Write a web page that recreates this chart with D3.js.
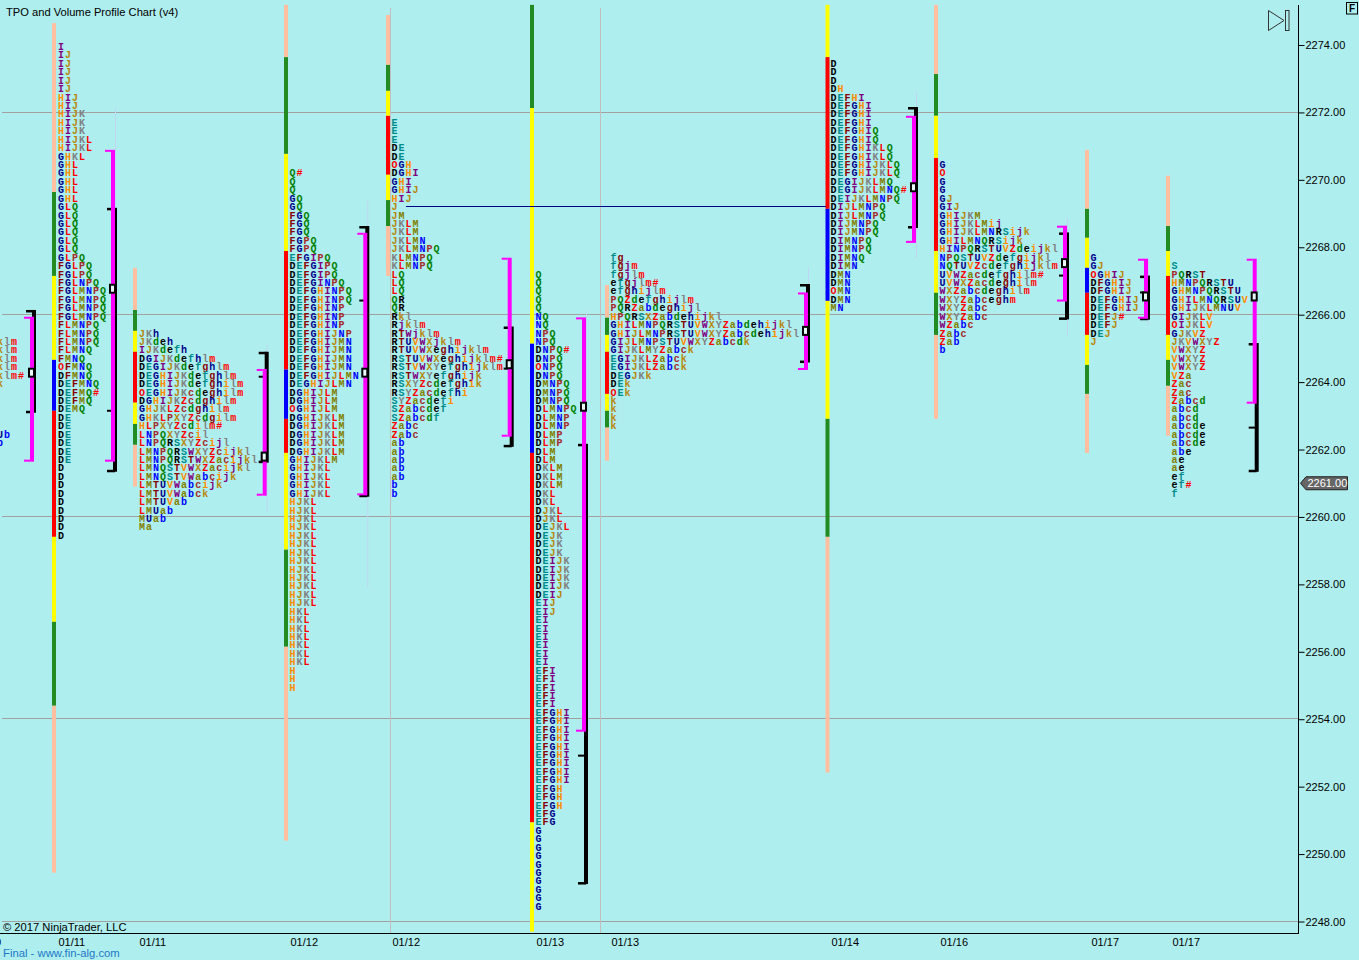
<!DOCTYPE html>
<html><head><meta charset="utf-8">
<script src="https://d3js.org/d3.v7.min.js"></script>
<style>
html,body{margin:0;padding:0;background:#AFEEEE;overflow:hidden}
svg{display:block}
text{font-family:"Liberation Sans",Arial,sans-serif}
.tpo{font-family:"Liberation Mono",monospace;font-size:10px;font-weight:bold;letter-spacing:1px}
</style></head><body>
<script>
// ---------- axis data ----------
const tickPrices=[2274,2272,2270,2268,2266,2264,2262,2260,2258,2256,2254,2252,2250,2248];
const gridPrices=[2272,2266,2260,2254,2248];
const lastPrice=2261;
const dateLabels=["01/10","01/11","01/11","01/12","01/12","01/13","01/13","01/14","01/16","01/17","01/17"];
const dateBars=[-27,58,139,290,392,536,611,831,940,1091,1172];
const sessionBreakBars=[390.5,600.5];
const pocLine=[406,826,2269.2];

// ---------- TPO letter rows per profile (top row first, one row per 0.25 points) ----------
const tpo0=["klm","klm","klm","klm","klm#","k","","","","","","Ub","b"];
const tpo1="I IJ IJ IJ IJ IJ HIJ HIJ HIJK HIJK HIJK HIJKL HIJKL GHKL GHL GHL GHL GHL GHL GLQ GLQ GLQ GLQ GLQ GLQ GLPQ FGLPQ FGLPQ FGLNPQ FGLMNPQ FGLMNPQ FGLMNPQ FGLMNPQ FLMNPQ FLMNPQ FLMNPQ FLMNQ FMNQ OFMNQ DFMNQ DEFMNQ DEFMQ# DEFMQ DEMQ DE DE DE DE DE DE D D D D D D D D D".split(" ");
const tpo2="JKh JKdeh IJKdefh DGIJKdefhlm DEGIJKdefghlm DEGHIJKdefghlm DEGHIJKdefghilm OEGHIJKcdeghilm DGHIJKZcdghilm GHJKLZcdghilm GHKLPXYZcdgilm HLPXYZcdilm# LNPQXYZcil LNPQRSXYZcijl LMNPQRSWXYZcijkl LMNPQRSTWXZacijkl LMNQSTVWXZacijkl LMNQSTVWabcijk LMTUVWabcijk LMTUVWabck LMTUVab LMUab MUab Ma".split(" ");
const tpo3="Q# Q Q GQ GQ FGQ FGQ FGQ FGPQ FGPQ EFGIPQ DEFGIPQ DEFGIPQ DEFGINPQ DEFGHINPQ DEFGHINPQ DEFGHINP DEFGHINP DEFGHINP DEFGHIJNP DEFGHIJMN DEFGHIJMN DEFGHIJMN DEFGHIJMN DEFGHIJLMN DEGHIJLMN DGHIJLM DGHIJLM OGHIJLM DGHIJKLM DGHIJKLM DGHIJKLM DGHIJKLM DGHIJKLM GHIJKLM GHIJKL GHIJKL GHIJKL GHIJKL HJKL HJKL HJKL HJKL HJKL HJKL HJKL HJKL HJKL HJKL HJKL HJKL HJKL HKL HKL HKL HKL HKL HKL HKL H H H".split(" ");
const tpo4="E E E DE DE OGH DGHI GHI GHIJ HIJ J JM JKLM JKLM JKLMN JKLMNPQ KLMNPQ KLMNPQ LQ LQ LQ QR QR Rkl Rjklm RTWjklm RTUVWXjklm RTUVWXeghijklm RSTUVWXeghijklm# RSTVWXYefghijklm RSTWXYefghijk RSXYZcdefghik RSYZacdefhi SYZacdefi SZabcdef SZabcdf Zabc Zabc ab ab ab ab ab b b".split(" ");
const tpo5="Q Q Q Q Q NQ NQ NPQ NPQ DNPQ# DNPQ ONPQ DNPQ DMNPQ DMNPQ DMNPQ DLMNPQ DLMNP DLMNP DLMP DLMP DLM DLM DKLM DKLM DKLM DKL DKL DJKL DJKL DEJKL DEJK DEJK DEJK DEIJK DEIJK DEIJK DEIJK DEIJ EIJ EIJ EI EI EI EI EI EI EFI EFI EFI EFI EFI EFGHI EFGHI EFGHI EFGHI EFGHI EFGHI EFGHI EFGHI EFGHI EFGH EFGH EFGH EFG EFG G G G G G G G G G G".split(" ");
const tpo6="fg fgjm fgjlm efgjlm# efghijlm PQZdefghijlm PQRZabdeghijl HPQRSXZabdehijkl GHILMNPQRSTUVWXYZabdehijkl GHIJLMNPRSTUVWXYZabcdehijkl GIJLMNPSTUVWXYZabcdk GIJKLMYZabck EGIJKLZabck EGIJKLZabck DEGJKk DEk OEk k k k k".split(" ");
const tpo7="D D D DH DEFHI DEFGHI DEFGHI DEFGHI DEFGHIQ DEFGHIQ DEFGHIKLQ DEFGHIKLQ DEFGHIJKLQ DEFGHIJKLQ DEGIJKLMQ DEGIJKLMNQ# DEIJKLMNPQ DIJLMNPQ DIJLMNPQ DIJMNPQ DIJMNPQ DIMNPQ DIMNPQ DIMNQ DIMN DMN DMN OMN DMN MN".split(" ");
const tpo8="G O G G GJ GIJ GHIJKM GHIJKLMij GHIJKLMNRSijk GHILMNQRSijk HINPQRSTUVZdeijkl NPQSTUVZdefgijkl NQTUVZcdefghijklm UVWZacdefghilm# UVWXZacdeghilm WXZabcdeghilm WXYZabceghm WXYZabc WXYZabc WZabc Zabc Zab b".split(" ");
const tpo9="G GJ OGHIJ DFGHIJ DFGHIJ DEFGHIJ DEFGHIJ DEFJ# DEFJ DEJ J".split(" ");
const tpo10="S PQRST HMNPQRSTU GHMNPQRSTU GHILMNQRSUV GHIJKLMNUV GIJKLV OIJKLV GJKVZ JKVWXYZ VWXYZ VWXYZ VWXYZ VZa Zac Zac Zabcd abcd abcd abcde abcde abcde abe ae ae ef ef# f".split(" ");
const tpoSets=[tpo0,tpo1,tpo2,tpo3,tpo4,tpo5,tpo6,tpo7,tpo8,tpo9,tpo10];
const tpoTop=[2265.25,2274,2265.5,2270.25,2271.75,2267.25,2267.75,2273.5,2270.5,2267.75,2267.5];
const tpoBars=[-3,58,139,289.5,391.5,535.5,610.5,830.5,939.5,1090.5,1171.5];

// ---------- colour-strip prices per profile ----------
const stripBars=[52,133,284,386,530,605,825.5,934,1085,1166];
const stripCuts=[
 [2274.65,2269.64,2267.15,2264.66,2263.15,2259.41,2256.89,2254.40,2249.45],
 [2267.39,2266.14,2265.52,2264.90,2263.39,2262.76,2262.14,2260.90],
 [2275.19,2273.64,2270.77,2267.89,2264.37,2262.91,2261.90,2259.03,2256.15,2250.40],
 [2274.89,2273.41,2272.64,2271.90,2270.15,2269.40,2268.63,2267.15],
 [2275.19,2272.13,2265.14,2261.90,2250.94,2247.70],
 [2266.88,2265.91,2265.40,2264.90,2263.65,2263.15,2262.65,2261.67],
 [2275.19,2273.64,2269.14,2266.41,2262.91,2259.41,2252.42],
 [2275.19,2273.14,2271.90,2270.65,2267.89,2266.65,2265.40,2262.91],
 [2270.89,2269.14,2268.28,2267.39,2266.65,2265.40,2264.51,2263.65,2261.90],
 [2270.12,2268.63,2267.89,2267.15,2265.40,2264.66,2263.89,2262.41]
];
const stripColors=["pgybrygp","pgyrygp","pgyrbrygp","pgyrygp","gybry","pgyrygp","yrbygp","pgyrygp","pgybrygp","pgyrygp"];
const stripPalette={p:"#FFBFA0",g:"#228B22",y:"#FFFF00",r:"#FF0000",b:"#0000FF"};

// ---------- brackets per profile ----------
const bracketBars=[32,113,264.7,365.3,509.7,584,806,914,1065,1146,1254.7];
const magentaTop=[2265.94,2270.89,2264.39,2268.43,2267.69,2265.92,2266.66,2271.90,2268.64,2267.66,2267.66];
const magentaBottom=[2261.67,2261.67,2260.66,2260.67,2262.41,2253.66,2264.39,2268.16,2266.42,2265.91,2263.39];
const blackTop=[2266.14,2269.17,2264.90,2268.63,2265.65,2262.17,2266.91,2272.16,2268.44,2267.16,2265.16];
const blackBottom=[2263.15,2261.40,2261.67,2260.66,2262.14,2249.17,2264.64,2268.63,2265.92,2265.91,2261.40];
const blackMid=[null,2263.15,2264.16,2266.42,2264.40,2252.92,null,null,2267.16,2266.66,2262.65];
const squarePrice=[2264.28,2266.77,2261.79,2264.28,2264.53,2263.27,2265.52,2269.78,2267.53,2266.54,2266.54];
const faintTop=[null,2272.13,2265.11,2269.38,null,2266.11,2267.39,2272.61,2268.87,2267.69,null];
const faintBottom=[null,2269.17,2260.15,2257.90,null,2252.80,2265.11,2267.69,2265.40,2265.70,null];

// ---------- letter colours ----------
const tpoLetters="DEFGHIJKLMNPQRSTUVWXYZabcdefghijklm";
const tpoPalette=["#000000","#008B8B","#8B0000","#00008B","#FF8C00","#800080","#B8860B","#808080","#FF0000","#808000","#0000FF","#A52A2A","#008000"];
const letterColor=c=>(c==="O"||c==="#")?"#FF0000":tpoPalette[tpoLetters.indexOf(c)%tpoPalette.length];

// ---------- drawing ----------
const W=1359,H=960;
const y=d3.scaleLinear().domain([2274,2248]).range([45,921.5]);
const x=d3.scaleLinear().domain([0,1359]).range([0,1359]);
const axisRight=1298.5,axisBottom=933.5;
const svg=d3.select("body").append("svg").attr("width",W).attr("height",H).style("background","#AFEEEE");

// grid
const gridY=d=>Math.floor(y(d)-0.3)+.5;
svg.append("g").selectAll("line").data(gridPrices).join("line")
 .attr("x1",2).attr("x2",axisRight).attr("y1",gridY).attr("y2",gridY)
 .attr("stroke","#A3A0A0").attr("stroke-width",1);
// session breaks
svg.append("g").selectAll("line").data(sessionBreakBars).join("line")
 .attr("x1",d=>x(d)).attr("x2",d=>x(d)).attr("y1",8).attr("y2",axisBottom)
 .attr("stroke","#C4BDBD").attr("stroke-width",1);

// colour strips
const strips=svg.append("g");
stripCuts.forEach((cuts,i)=>{
  const colors=stripColors[i];
  d3.range(cuts.length-1).forEach(k=>{
    strips.append("rect").attr("x",x(stripBars[i])).attr("width",4)
      .attr("y",y(cuts[k])).attr("height",y(cuts[k+1])-y(cuts[k]))
      .attr("fill",stripPalette[colors[k]]);
  });
});

// naked POC line
svg.append("line").attr("x1",x(pocLine[0])).attr("x2",x(pocLine[1]))
 .attr("y1",Math.floor(y(pocLine[2]))+.5).attr("y2",Math.floor(y(pocLine[2]))+.5).attr("stroke","#00008B").attr("stroke-width",1);

// TPO letters
const tg=svg.append("g");
tpoSets.forEach((rows,i)=>{
  rows.forEach((row,r)=>{
    if(!row) return;
    const t=tg.append("text").attr("x",x(tpoBars[i])).attr("y",y(tpoTop[i]-r*0.25)+5).attr("class","tpo");
    t.selectAll("tspan").data(row.split("")).join("tspan").attr("fill",letterColor).text(d=>d);
  });
});

// faint lines
svg.append("g").selectAll("line").data(d3.range(bracketBars.length).filter(i=>faintTop[i]!==null)).join("line")
 .attr("x1",i=>x(bracketBars[i]+2.5)).attr("x2",i=>x(bracketBars[i]+2.5))
 .attr("y1",i=>y(faintTop[i])).attr("y2",i=>y(faintBottom[i]))
 .attr("stroke","#BFD6F2").attr("stroke-width",1);

// brackets
const br=svg.append("g");
bracketBars.forEach((b,i)=>{
  const cx=x(b);
  // black
  const bt=y(blackTop[i]),bb=y(blackBottom[i]);
  br.append("rect").attr("x",cx).attr("width",4).attr("y",bt).attr("height",bb-bt+2).attr("fill","#000");
  br.append("rect").attr("x",cx-6).attr("width",8).attr("y",bt).attr("height",2.5).attr("fill","#000");
  br.append("rect").attr("x",cx-6).attr("width",8).attr("y",bb).attr("height",2.5).attr("fill","#000");
  if(blackMid[i]!==null) br.append("rect").attr("x",cx-6).attr("width",8).attr("y",y(blackMid[i])-1).attr("height",2).attr("fill","#000");
  // magenta
  const mt=y(magentaTop[i]),mb=y(magentaBottom[i]);
  br.append("rect").attr("x",cx-2).attr("width",4).attr("y",mt).attr("height",mb-mt+1).attr("fill","#FF00FF");
  br.append("rect").attr("x",cx-8).attr("width",6).attr("y",mt).attr("height",2).attr("fill","#FF00FF");
  br.append("rect").attr("x",cx-8).attr("width",6).attr("y",mb-1).attr("height",2).attr("fill","#FF00FF");
  // square
  br.append("rect").attr("x",cx-3).attr("y",y(squarePrice[i])-4).attr("width",5).attr("height",8)
    .attr("fill","#EAF9F9").attr("stroke","#000").attr("stroke-width",2);
});

// price axis
const ay=svg.append("g").attr("transform",`translate(${axisRight},0)`)
 .call(d3.axisRight(y).tickValues(tickPrices).tickSize(6).tickPadding(1).tickFormat(d3.format(".2f")));
ay.select(".domain").remove();
ay.selectAll(".tick line").attr("stroke","#000");
ay.selectAll(".tick text").attr("fill","#000").style("font-size","11px").style("font-family","'Liberation Sans',Arial,sans-serif");
svg.append("line").attr("x1",axisRight).attr("x2",axisRight).attr("y1",5).attr("y2",axisBottom+.5).attr("stroke","#000");
svg.append("line").attr("x1",0).attr("x2",axisRight).attr("y1",axisBottom).attr("y2",axisBottom).attr("stroke","#000");

// date axis
const ax=svg.append("g").attr("transform",`translate(0,${axisBottom})`)
 .call(d3.axisBottom(x).tickValues(dateBars).tickSize(0).tickPadding(5).tickFormat((d,i)=>dateLabels[i]));
ax.select(".domain").remove();
ax.selectAll(".tick text").attr("text-anchor","start").attr("fill","#000").attr("dy","0.71em")
  .style("font-size","11px").style("font-family","'Liberation Sans',Arial,sans-serif");

// last price flag
const ly=y(lastPrice);
svg.append("path").attr("d",`M1300.5,${ly}L1306,${ly-6.5}H1347.5V${ly+6.5}H1306Z`).attr("fill","#666").attr("stroke","#222").attr("stroke-width",1);
svg.append("text").attr("x",1307.5).attr("y",ly+4).attr("fill","#fff").style("font-size","11px").text(d3.format(".2f")(lastPrice));

// titles
svg.append("text").attr("x",6).attr("y",16).attr("fill","#000").style("font-size","11.15px").text("TPO and Volume Profile Chart (v4)");
svg.append("text").attr("x",3).attr("y",931).attr("fill","#000").style("font-size","11.2px").text("© 2017 NinjaTrader, LLC");
svg.append("text").attr("x",3).attr("y",957).attr("fill","#1E78C8").style("font-size","11.3px").text("Final - www.fin-alg.com");

// play icon and F box
svg.append("path").attr("d","M1268.5,10.5L1284,20.5L1268.5,30.5Z").attr("fill","none").attr("stroke","#333");
svg.append("rect").attr("x",1285.5).attr("y",10.5).attr("width",3.5).attr("height",20).attr("fill","none").attr("stroke","#333");
svg.append("rect").attr("x",1346.5).attr("y",2.5).attr("width",11).attr("height",11.5).attr("fill","none").attr("stroke","#000");
svg.append("text").attr("x",1352).attr("y",12).attr("text-anchor","middle").attr("font-weight","bold").attr("fill","#000").style("font-size","10px").text("F");
</script>
</body></html>
